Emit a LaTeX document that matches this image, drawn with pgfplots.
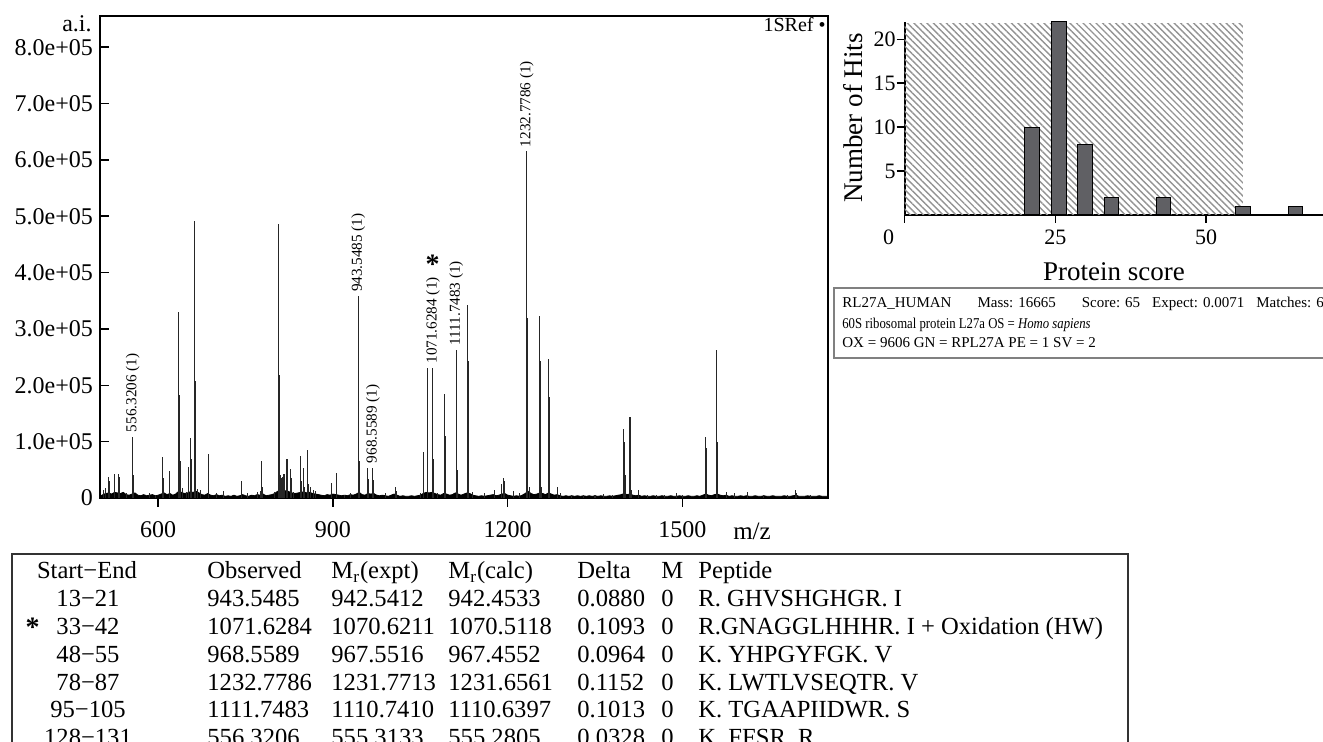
\documentclass[border=0pt]{standalone}
\usepackage{fontspec}
\setmainfont{Liberation Serif}
\usepackage{pgfplots}
\pgfplotsset{compat=1.18}
\usetikzlibrary{patterns.meta}
\newcommand\fs[1]{\fontsize{#1}{#1}\selectfont}
\definecolor{bargray}{RGB}{96,96,100}
\newcommand\trow[8]{%
  \node[anchor=base] at (88,#1) {#2};
  \node[anchor=base west] at (207,#1) {#3};
  \node[anchor=base west] at (331,#1) {#4};
  \node[anchor=base west] at (448,#1) {#5};
  \node[anchor=base west] at (577,#1) {#6};
  \node[anchor=base west] at (661,#1) {#7};
  \node[anchor=base west] at (698,#1) {#8};
}
\begin{document}
\begin{tikzpicture}
\useasboundingbox (0,0) rectangle (661.5pt,-371pt);
% ---------------- spectrum ----------------
\begin{axis}[
  at={(50pt,-249pt)}, anchor=south west,
  scale only axis, width=364pt, height=241pt,
  xmin=500, xmax=1750, ymin=0, ymax=855500,
  axis line style={line width=0.8pt},
  tick pos=left, tick align=inside,
  major tick length=4.5pt,
  x tick style={black, line width=0.8pt, yshift=-4.5pt},
  y tick style={black, line width=0.8pt},
  xtick={600,900,1200,1500},
  xticklabel style={font=\fs{12}, yshift=-8pt},
  /pgf/number format/1000 sep={},
  scaled y ticks=false,
  ytick={0,100000,200000,300000,400000,500000,600000,700000,800000},
  yticklabels={0,1.0e+05,2.0e+05,3.0e+05,4.0e+05,5.0e+05,6.0e+05,7.0e+05,8.0e+05},
  yticklabel style={font=\fs{12}},
  /pgf/number format/assume math mode=true,
]
% baseline noise
\addplot[fill=black, draw=black, line width=0.4pt] coordinates {
(500,3000)(505,6000)(510,8000)(515,9000)(520,7000)(525,10000)(530,9000)(535,8000)(540,10000)(545,6000)
(550,5000)(555,7000)(560,9000)(565,5000)(570,4000)(575,6000)(580,4000)(585,5000)(590,6000)(595,4000)
(600,5000)(605,7000)(610,9000)(615,6000)(620,8000)(625,5000)(630,7000)(635,12000)(640,10000)(645,8000)
(650,9000)(655,11000)(660,10000)(665,12000)(670,9000)(675,6000)(680,5000)(685,8000)(690,5000)(695,4000)
(700,6000)(705,4000)(710,5000)(715,3000)(720,4000)(725,3000)(730,5000)(735,3000)(740,4000)(745,6000)
(750,4000)(755,3000)(760,5000)(765,4000)(770,6000)(775,5000)(780,7000)(785,4000)(790,5000)(795,6000)
(800,8000)(805,12000)(810,14000)(815,12000)(820,13000)(825,11000)(830,9000)(835,8000)(840,9000)(845,10000)
(850,11000)(855,9000)(860,10000)(865,8000)(870,7000)(875,6000)(880,5000)(885,4000)(890,6000)(895,5000)
(900,7000)(905,6000)(910,5000)(915,4000)(920,5000)(925,4000)(930,6000)(935,5000)(940,7000)(945,10000)
(950,6000)(955,5000)(960,8000)(965,7000)(970,8000)(975,5000)(980,4000)(985,5000)(990,4000)(995,3000)
(1000,5000)(1005,7000)(1010,5000)(1015,3000)(1020,4000)(1025,3000)(1030,3000)(1035,4000)(1040,3000)(1045,4000)
(1050,5000)(1055,8000)(1060,10000)(1065,9000)(1070,10000)(1075,8000)(1080,6000)(1085,5000)(1090,8000)(1095,7000)
(1100,5000)(1105,6000)(1110,9000)(1115,7000)(1120,5000)(1125,7000)(1130,9000)(1135,8000)(1140,5000)(1145,4000)
(1150,3000)(1155,4000)(1160,3000)(1165,4000)(1170,5000)(1175,6000)(1180,4000)(1185,5000)(1190,7000)(1195,8000)
(1200,5000)(1205,4000)(1210,3000)(1215,4000)(1220,3000)(1225,5000)(1230,8000)(1235,12000)(1240,8000)(1245,6000)
(1250,7000)(1255,9000)(1260,8000)(1265,6000)(1270,9000)(1275,7000)(1280,5000)(1285,6000)(1290,4000)(1295,3000)
(1300,4000)(1305,3000)(1310,4000)(1315,3000)(1320,4000)(1325,3000)(1330,4000)(1335,3000)(1340,4000)(1345,3000)
(1350,4000)(1355,3000)(1360,4000)(1365,3000)(1370,3000)(1375,4000)(1380,3000)(1385,4000)(1390,5000)(1395,6000)
(1400,8000)(1405,6000)(1410,7000)(1415,5000)(1420,4000)(1425,5000)(1430,3000)(1435,4000)(1440,3000)(1445,3000)
(1450,4000)(1455,3000)(1460,3000)(1465,4000)(1470,3000)(1475,3000)(1480,4000)(1485,3000)(1490,3000)(1495,4000)
(1500,3000)(1505,3000)(1510,4000)(1515,3000)(1520,3000)(1525,4000)(1530,3000)(1535,5000)(1540,7000)(1545,5000)
(1550,4000)(1555,6000)(1560,7000)(1565,5000)(1570,4000)(1575,5000)(1580,3000)(1585,4000)(1590,3000)(1595,3000)
(1600,4000)(1605,3000)(1610,4000)(1615,3000)(1620,3000)(1625,4000)(1630,3000)(1635,3000)(1640,4000)(1645,3000)
(1650,3000)(1655,4000)(1660,3000)(1665,3000)(1670,3000)(1675,4000)(1680,3000)(1685,3000)(1690,4000)(1695,5000)
(1700,3000)(1705,3000)(1710,3000)(1715,4000)(1720,3000)(1725,3000)(1730,3000)(1735,4000)(1740,3000)(1745,3000)(1750,3000)
} \closedcycle;
% peaks
\addplot[ycomb, black!85, line width=0.55pt] coordinates {
(505.7,15000)(510,17000)(514,37000)(517,30000)(524.5,42000)(531.4,43000)(533,38000)(545,8000)
(556.32,109000)(557.3,40000)(585,8000)(595,6000)
(607.5,73000)(608.5,36000)(619,48000)(620,20000)
(635.4,331000)(636.4,182000)(637.4,65000)(641,18000)(648,10000)(652,55000)
(656,107000)(657,70000)(663,491000)(664,208000)(668,16000)(672,14000)
(685.7,78000)(686.7,35000)(700,8000)(712,12000)(743,30000)(753,8000)(770,10000)(775,12000)
(777.7,66000)(778.7,20000)(800,10000)
(806,487000)(807,353000)(808,218000)(809,40000)
(811,35000)(814,37000)(816,42000)(821,69000)(827,51000)(828,35000)(832,10000)
(844.6,75000)(845.6,30000)(849.7,53000)(851,20000)(857,85000)(858,25000)
(862,20000)(866,15000)(870,12000)(897.7,26000)(905.7,45000)(920,6000)(930,8000)
(943.55,358000)(944.55,186000)(945.55,65000)
(960,54000)(961,33000)(968.56,54000)(969.56,32000)(990,8000)
(1007.5,20000)(1008.5,12000)(1050,8000)(1056,81000)
(1061.7,231000)(1062.7,155000)(1071.63,231000)(1072.63,70000)(1080,8000)
(1091.4,184000)(1092.4,110000)(1093.4,30000)
(1111.75,263000)(1112.75,193000)(1113.75,50000)
(1131,343000)(1132,243000)(1133,40000)(1140,10000)(1160,8000)(1177,15000)
(1190,25000)(1193,35000)(1194,30000)(1210,12000)(1220,8000)
(1232.78,615000)(1233.78,319000)(1234.78,30000)(1236.78,20000)
(1255.4,323000)(1256.4,244000)(1257.4,20000)
(1270,247000)(1271,180000)(1272,40000)(1285,20000)(1290,8000)
(1310,6000)(1330,6000)(1350,6000)(1365,7000)(1380,6000)
(1399.5,123000)(1400.5,100000)(1401.5,40000)(1410,143000)(1411,60000)(1412,15000)(1425,15000)
(1440,6000)(1455,6000)(1470,6000)(1490,8000)(1500,6000)
(1540,109000)(1541,88000)(1542,40000)
(1558,262000)(1559,223000)(1560,100000)(1561,20000)
(1575,10000)(1590,8000)(1612,10000)(1640,6000)(1680,6000)(1694,15000)(1695,8000)(1720,5000)
};
\tikzset{pklab/.style={rotate=90, anchor=west, font=\fs{7.6}, inner sep=0pt, inner xsep=2pt}}
\node[pklab] at (axis cs:556.32,109000) {556.3206 (1)};
\node[pklab] at (axis cs:943.55,358000) {943.5485 (1)};
\node[pklab] at (axis cs:968.56,54000) {968.5589 (1)};
\node[pklab] at (axis cs:1071.63,231000) {1071.6284 (1)};
\node[pklab] at (axis cs:1111.75,263000) {1111.7483 (1)};
\node[pklab] at (axis cs:1232.78,615000) {1232.7786 (1)};
\end{axis}
% ---------------- histogram ----------------
\begin{axis}[
  at={(452.3pt,-107.5pt)}, anchor=south west,
  scale only axis, width=209pt, height=96.6pt,
  xmin=0, xmax=69.3, ymin=0, ymax=22,
  clip=false,
  axis lines=left, axis line style={-, line width=0.9pt},
  tick align=outside, major tick length=4pt,
  tick style={black, line width=0.8pt},
  xtick={25,50}, extra x ticks={0},
  extra x tick style={xticklabel style={xshift=-8pt}},
  ytick={5,10,15,20},
  ticklabel style={font=\fs{11}},
  yticklabel style={xshift=3pt},
  /pgf/number format/assume math mode=true,
  xlabel={Protein score}, ylabel={Number of Hits},
  xlabel style={font=\fs{13.5}, at={(axis description cs:0.501,-0.293)}, anchor=center},
  ylabel style={font=\fs{13.5}, at={(axis description cs:-0.1234,0.503)}, anchor=center},
]
\addplot[draw=none, pattern={Lines[angle=-45,distance=2.3pt,line width=0.7pt]}, pattern color=gray!85]
  coordinates {(0,21.75) (56.07,21.75)} \closedcycle;
\addplot[ybar, bar width=7.25pt, fill=bargray, draw=black, line width=0.5pt]
  coordinates {(21.1,10) (25.6,22) (29.9,8) (34.3,2) (42.9,2) (56.1,1) (64.8,1)};
\end{axis}
% ---------------- texts, boxes, table ----------------
\begin{scope}[x=0.5pt, y=-0.5pt, every node/.style={inner sep=0pt}]
\node[anchor=east, font=\fs{12}] at (92,24) {a.i.};
\node[anchor=east, font=\fs{10}] at (826,25) {1SRef •};
\node[font=\fs{14}\bfseries] at (432.5,264) {*};
\node[font=\fs{12.5}] at (752,531) {m/z};
% info box
\draw[gray, line width=0.6pt] (1330,288) -- (834,288) -- (834,358) -- (1330,358);
\begin{scope}[every node/.style={inner sep=0pt, anchor=base west, font=\fs{7.5}}]
\node at (842,308) {RL27A\_HUMAN\hspace{13pt}Mass: 16665\hspace{13pt}Score: 65\hspace{6pt}Expect: 0.0071\hspace{6pt}Matches: 6};
\node[xscale=0.85] at (842,329) {60S ribosomal protein L27a OS = \textit{Homo sapiens}};
\node at (842,348) {OX = 9606 GN = RPL27A PE = 1 SV = 2};
\end{scope}
% table
\draw[black!80, line width=0.6pt] (12,760) -- (12,554) -- (1128,554) -- (1128,760);
\begin{scope}[every node/.style={inner sep=0pt, font=\fs{12.3}}]
\node[anchor=base] at (87,579) {Start−End};
\node[anchor=base west] at (207,579) {Observed};
\node[anchor=base west] at (331,579) {M\textsubscript{r}(expt)};
\node[anchor=base west] at (448,579) {M\textsubscript{r}(calc)};
\node[anchor=base west] at (577,579) {Delta};
\node[anchor=base west] at (661,579) {M};
\node[anchor=base west] at (698,579) {Peptide};
\trow{606.8}{13−21}{943.5485}{942.5412}{942.4533}{0.0880}{0}{R. GHVSHGHGR. I}
\trow{634.6}{33−42}{1071.6284}{1070.6211}{1070.5118}{0.1093}{0}{R.GNAGGLHHHR. I + Oxidation (HW)}
\trow{662.4}{48−55}{968.5589}{967.5516}{967.4552}{0.0964}{0}{K. YHPGYFGK. V}
\trow{690.2}{78−87}{1232.7786}{1231.7713}{1231.6561}{0.1152}{0}{K. LWTLVSEQTR. V}
\trow{718}{95−105}{1111.7483}{1110.7410}{1110.6397}{0.1013}{0}{K. TGAAPIIDWR. S}
\trow{745.8}{128−131}{556.3206}{555.3133}{555.2805}{0.0328}{0}{K. FFSR. R}
\node[font=\fs{14}\bfseries] at (32.5,627) {*};
\end{scope}
\end{scope}
\end{tikzpicture}
\end{document}
